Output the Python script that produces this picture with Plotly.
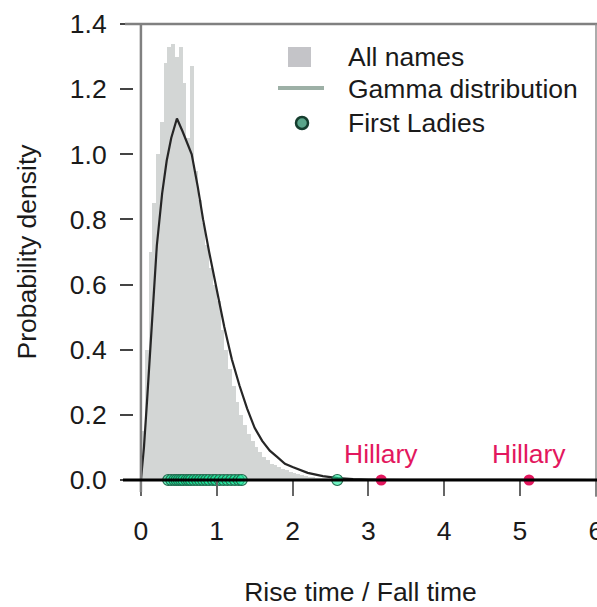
import plotly.graph_objects as go

# ---------------- data ----------------
# histogram of all names: bin left edges (width 0.05) and densities
hist_left = [0.00, 0.05, 0.10, 0.15, 0.20, 0.25, 0.30, 0.35, 0.40, 0.45,
             0.50, 0.55, 0.60, 0.65, 0.70, 0.75, 0.80, 0.85, 0.90, 0.95,
             1.00, 1.05, 1.10, 1.15, 1.20, 1.25, 1.30, 1.35, 1.40, 1.45,
             1.50, 1.55, 1.60, 1.65, 1.70, 1.75, 1.80, 1.85, 1.90, 1.95,
             2.00, 2.05, 2.10, 2.15, 2.20, 2.25, 2.30, 2.35, 2.40, 2.45]
hist_density = [0.15, 0.40, 0.70, 0.85, 1.00, 1.10, 1.28, 1.33, 1.34, 1.30,
                1.33, 1.22, 1.05, 1.27, 0.95, 0.86, 0.79, 0.72, 0.65, 0.60,
                0.55, 0.46, 0.40, 0.34, 0.29, 0.24, 0.20, 0.17, 0.14, 0.12,
                0.10, 0.085, 0.07, 0.06, 0.05, 0.045, 0.04, 0.035, 0.03, 0.025,
                0.02, 0.018, 0.015, 0.012, 0.01, 0.008, 0.007, 0.006, 0.005, 0.004]
bin_width = 0.05

# fitted gamma density curve
gamma_x = [0.0, 0.04, 0.08, 0.12, 0.16, 0.21, 0.28, 0.34, 0.40, 0.475,
           0.55, 0.60, 0.67, 0.75, 0.82, 0.90, 1.00, 1.10, 1.20, 1.30,
           1.40, 1.50, 1.60, 1.70, 1.80, 1.90, 2.00, 2.20, 2.40, 2.60,
           2.80, 3.00, 3.50, 4.00, 5.00, 6.00]
gamma_y = [0.0, 0.10, 0.24, 0.40, 0.55, 0.72, 0.88, 0.98, 1.05, 1.11,
           1.07, 1.04, 1.00, 0.90, 0.80, 0.70, 0.58, 0.47, 0.37, 0.29,
           0.22, 0.16, 0.12, 0.09, 0.07, 0.05, 0.04, 0.022, 0.012, 0.006,
           0.003, 0.0015, 0.0003, 0.0, 0.0, 0.0]

# first ladies' rise/fall ratios
first_ladies = [0.36, 0.40, 0.44, 0.47, 0.50, 0.53, 0.56, 0.60, 0.63, 0.66,
                0.70, 0.74, 0.78, 0.82, 0.86, 0.90, 0.95, 0.99, 1.04, 1.09,
                1.14, 1.19, 1.24, 1.29, 1.33, 2.59]

# Hillary
hillary_x = [3.17, 5.12]
hillary_labels = ["Hillary", "Hillary"]

legend_labels = ["All names", "Gamma distribution", "First Ladies"]

x_ticks = [0, 1, 2, 3, 4, 5, 6]
y_ticks = [0.0, 0.2, 0.4, 0.6, 0.8, 1.0, 1.2, 1.4]

# ---------------- figure ----------------
FONT = "Liberation Sans, Arial, Helvetica, sans-serif"
FS = 26.5
HIST_GRAY = "#d3d6d5"
PINK = "#e3175e"

W, H = 597, 607
L, R, T, B = 125, 1, 24, 127
PW, PH = W - L - R, H - T - B


def px(xp):
    return (xp - L) / PW


def py(yp):
    return (H - B - yp) / PH


fig = go.Figure()

fig.add_trace(go.Bar(
    x=[v + bin_width / 2 for v in hist_left], y=hist_density, width=bin_width,
    marker=dict(color=HIST_GRAY, line=dict(width=0)),
    name=legend_labels[0], showlegend=False, hoverinfo="skip"))

fig.add_trace(go.Scatter(
    x=gamma_x, y=gamma_y, mode="lines",
    line=dict(color="#262626", width=2.2),
    name=legend_labels[1], showlegend=False))

fig.add_trace(go.Scatter(
    x=first_ladies, y=[0] * len(first_ladies), mode="markers",
    marker=dict(size=11, color="rgba(20,235,155,0.6)",
                line=dict(color="#236b4f", width=1.2)),
    name=legend_labels[2], showlegend=False, cliponaxis=False))

fig.add_trace(go.Scatter(
    x=hillary_x, y=[0] * len(hillary_x), mode="markers",
    marker=dict(size=11, color=PINK, line=dict(width=0)),
    showlegend=False, cliponaxis=False))

for hx, lab in zip(hillary_x, hillary_labels):
    fig.add_annotation(x=hx, y=0.08, xref="x", yref="y", text=lab,
                       showarrow=False, font=dict(family=FONT, size=FS, color=PINK),
                       xanchor="center", yanchor="middle")

shapes = []
# frame pieces
shapes.append(dict(type="line", xref="paper", yref="paper", x0=0, x1=1.01, y0=1, y1=1,
                   line=dict(color="#808080", width=2.5)))
shapes.append(dict(type="line", xref="paper", yref="paper", x0=1, x1=1, y0=py(497), y1=1,
                   line=dict(color="#909090", width=1.5)))
shapes.append(dict(type="line", xref="x", yref="paper", x0=0, x1=0, y0=py(492), y1=1,
                   line=dict(color="#808080", width=2.5)))
shapes.append(dict(type="line", xref="paper", yref="paper", x0=px(123), x1=1.01, y0=0, y1=0,
                   line=dict(color="black", width=3)))

# manual legend
shapes.append(dict(type="rect", xref="paper", yref="paper",
                   x0=px(288), x1=px(311), y0=py(67), y1=py(47),
                   fillcolor="#c4c4c8", line=dict(width=0)))
shapes.append(dict(type="line", xref="paper", yref="paper",
                   x0=px(278), x1=px(324), y0=py(88), y1=py(88),
                   line=dict(color="#9db0a6", width=4)))
shapes.append(dict(type="circle", xref="paper", yref="paper",
                   x0=px(296), x1=px(308), y0=py(129), y1=py(117),
                   fillcolor="#5aa58a", line=dict(color="#153d2e", width=2.5)))
fig.update_layout(shapes=shapes)

for lab, yc in zip(legend_labels, [57, 89, 123]):
    fig.add_annotation(x=px(346), y=py(yc), xref="paper", yref="paper", text=lab,
                       showarrow=False, xanchor="left", yanchor="middle",
                       font=dict(family=FONT, size=FS, color="#1a1a1a"))

fig.update_layout(
    width=W, height=H,
    margin=dict(l=L, r=R, t=T, b=B, pad=0, autoexpand=False),
    paper_bgcolor="white", plot_bgcolor="white",
    bargap=0, showlegend=False,
    font=dict(family=FONT, size=FS, color="#1a1a1a"),
    xaxis=dict(range=[-0.21, 6.003], tickvals=x_ticks, ticktext=[str(v) for v in x_ticks],
               ticks="outside", ticklen=15, tickwidth=1.5, tickcolor="#666",
               showline=False, showgrid=False, zeroline=False, automargin=False,
               ticklabelstandoff=12, ticklabeloverflow="allow",
               title=dict(text="Rise time / Fall time", standoff=40,
                          font=dict(family=FONT, size=FS))),
    yaxis=dict(range=[0, 1.4], tickvals=y_ticks, ticktext=[f"{v:.1f}" for v in y_ticks],
               anchor="free", position=px(133), automargin=False,
               ticks="outside", ticklen=13, tickwidth=2, tickcolor="#444",
               showline=False, showgrid=False, zeroline=False,
               ticklabelstandoff=8,
               title=dict(text="Probability density", standoff=24,
                          font=dict(family=FONT, size=FS))),
)

fig.write_html("out.html", config={"displayModeBar": False},
               post_script="document.body.style.margin='0px';document.body.style.padding='0px';")
